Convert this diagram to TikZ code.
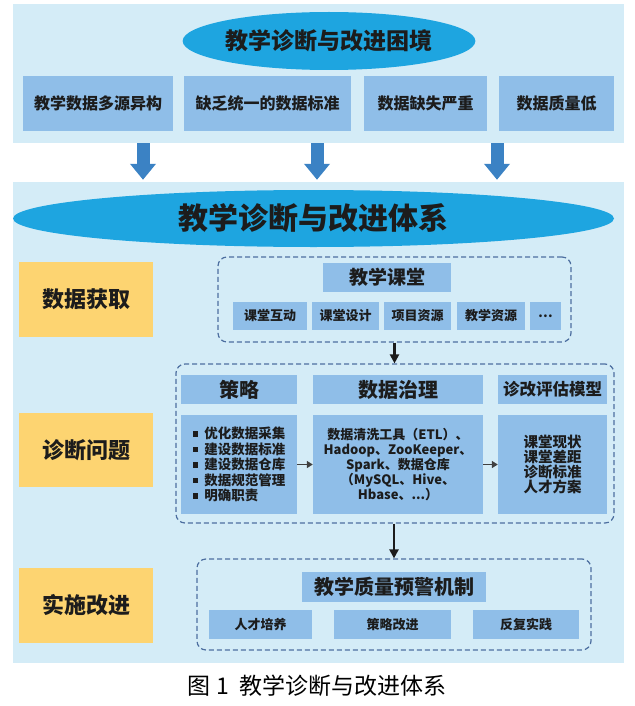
\documentclass[tikz,border=0pt]{standalone}
\usepackage{fontspec}
\newfontfamily\cjk{Noto Sans CJK SC}
\usetikzlibrary{shapes.geometric,arrows.meta}
\definecolor{panelblue}{HTML}{D4ECF7}
\definecolor{ellblue}{HTML}{1EA5E0}
\definecolor{boxblue}{HTML}{8FBEE8}
\definecolor{orangebox}{HTML}{FDD471}
\definecolor{arrblue}{HTML}{3B82C4}
\definecolor{dashcol}{HTML}{4D6FA0}
\definecolor{txt}{HTML}{1C1C1C}
\newcommand{\sq}{\raisebox{2pt}{\rule{5.5pt}{5.5pt}}\hspace{6pt}}

\begin{document}
\begin{tikzpicture}[x=1pt,y=-1pt,
  panel/.style={fill=panelblue, draw=none, inner sep=0pt},
  ell/.style={ellipse, fill=ellblue, inner sep=0pt, text=txt},
  qbox/.style={fill=boxblue, inner sep=0pt, minimum height=55pt, text=txt, font=\cjk\bfseries\fontsize{16}{18}\selectfont},
  obox/.style={fill=orangebox, inner sep=0pt, minimum width=134pt, minimum height=75pt, text=txt, font=\cjk\bfseries\fontsize{22}{24}\selectfont},
  dbox/.style={draw=dashcol, line width=1.2pt, dash pattern=on 5pt off 3pt, rounded corners=9pt, inner sep=0pt},
  hbox/.style={fill=boxblue, inner sep=0pt, minimum height=29pt, text=txt, font=\cjk\bfseries\fontsize{20}{22}\selectfont},
  ibox/.style={fill=boxblue, inner sep=0pt, minimum height=28pt, text=txt, font=\cjk\bfseries\fontsize{13}{15}\selectfont},
  cbox/.style={fill=boxblue, inner sep=0pt, minimum height=99pt, text=txt, align=center},
  barr/.style={draw=arrblue, line width=13pt, -{Triangle[width=25pt,length=16pt]}},
  karr/.style={draw=txt, line width=2.2pt, -{Triangle[width=9pt,length=9pt]}},
  garr/.style={draw=black!75, line width=1.8pt, -{Triangle[width=7pt,length=6pt]}}
]
\useasboundingbox (0,0) rectangle (634,706);

% ===== panels =====
\node[panel, minimum width=611pt, minimum height=139pt] (kunjing) at (318.5,73.5) {};
\node[panel, minimum width=611pt, minimum height=481pt] (tixi) at (318.5,422.5) {};

% ===== top: difficulties =====
\node[ell, minimum width=291pt, minimum height=58pt, font=\cjk\bfseries\fontsize{23}{25}\selectfont] (ekj) at (329,41) {教学诊断与改进困境};
\node[qbox, minimum width=150pt] (q1) at (98,103.5) {教学数据多源异构};
\node[qbox, minimum width=167pt] (q2) at (267.5,103.5) {缺乏统一的数据标准};
\node[qbox, minimum width=123pt] (q3) at (425.5,103.5) {数据缺失严重};
\node[qbox, minimum width=115pt] (q4) at (556.5,103.5) {数据质量低};

% blue arrows top -> system
\foreach \x/\n in {143/1,317/2,497/3}{
  \coordinate (s\n) at (\x,143);
  \draw[barr] (s\n) -- ([yshift=2pt]s\n |- tixi.north);
}

% ===== system =====
\node[ell, minimum width=601pt, minimum height=57pt, font=\cjk\bfseries\fontsize{30}{32}\selectfont] (etx) at (313.5,218.5) {教学诊断与改进体系};

\node[obox] (huoqu) at (86,299.5) {数据获取};
\node[obox, minimum height=74pt] (wenti) at (86,450) {诊断问题};
\node[obox] (gaijin) at (86,605.5) {实施改进};

% ---- data acquisition ----
\node[dbox, minimum width=353pt, minimum height=85pt] (d1) at (394.5,299.5) {};
\node[hbox, minimum width=128pt, font=\cjk\bfseries\fontsize{19}{21}\selectfont] (ketang) at (387,277.5) {教学课堂};
\node[ibox, minimum width=74pt] (k1) at (270,316) {课堂互动};
\node[ibox, minimum width=67pt] (k2) at (345.5,316) {课堂设计};
\node[ibox, minimum width=67pt] (k3) at (417.5,316) {项目资源};
\node[ibox, minimum width=68pt] (k4) at (491,316) {教学资源};
\node[ibox, minimum width=31pt] (k5) at (545.5,316) {…};

% ---- diagnosis ----
\node[dbox, minimum width=438pt, minimum height=159pt] (d2) at (395,443.5) {};
\node[hbox, minimum width=116pt] (celue) at (239,389.5) {策略};
\node[hbox, minimum width=170pt] (zhili) at (398,389.5) {数据治理};
\node[hbox, minimum width=109pt, font=\cjk\bfseries\fontsize{16.5}{18}\selectfont] (moxing) at (552.5,389.5) {诊改评估模型};
\node[cbox, minimum width=116pt, align=left, font=\cjk\bfseries\fontsize{13.5}{15.5}\selectfont] (celuec) at (239,464.5)
  {\sq 优化数据采集\\\sq 建设数据标准\\\sq 建设数据仓库\\\sq 数据规范管理\\\sq 明确职责};
\node[cbox, minimum width=170pt, font=\cjk\bfseries\fontsize{13}{15}\selectfont] (zhilic) at (398,464.5)
  {数据清洗工具（ETL）、\\Hadoop、ZooKeeper、\\Spark、数据仓库\\（MySQL、Hive、\\Hbase、...）};
\node[cbox, minimum width=109pt, font=\cjk\bfseries\fontsize{14.5}{15}\selectfont] (moxingc) at (552.5,464.5)
  {课堂现状\\课堂差距\\诊断标准\\人才方案};
\draw[garr] (celuec.east) -- (zhilic.west);
\draw[garr] (zhilic.east) -- (moxingc.west);

% ---- improvement ----
\node[dbox, minimum width=394pt, minimum height=91pt] (d3) at (394,604.5) {};
\node[hbox, minimum width=184pt, minimum height=30pt] (yujing) at (394,587) {教学质量预警机制};
\node[ibox, minimum width=103pt, minimum height=29pt] (g1) at (260.5,624.5) {人才培养};
\node[ibox, minimum width=117pt, minimum height=29pt] (g2) at (392.5,624.5) {策略改进};
\node[ibox, minimum width=106pt, minimum height=29pt] (g3) at (526,624.5) {反复实践};

% black arrows
\draw[karr] (d1.south) -- (d1.south |- d2.north);
\draw[karr] (d2.south -| d3.north) -- (d3.north);

% caption
\node[font=\cjk\fontsize{23}{25}\selectfont, text=black] (cap) at (317,686) {图\hspace{6pt}1\hspace{11pt}教学诊断与改进体系};
\end{tikzpicture}
\end{document}
